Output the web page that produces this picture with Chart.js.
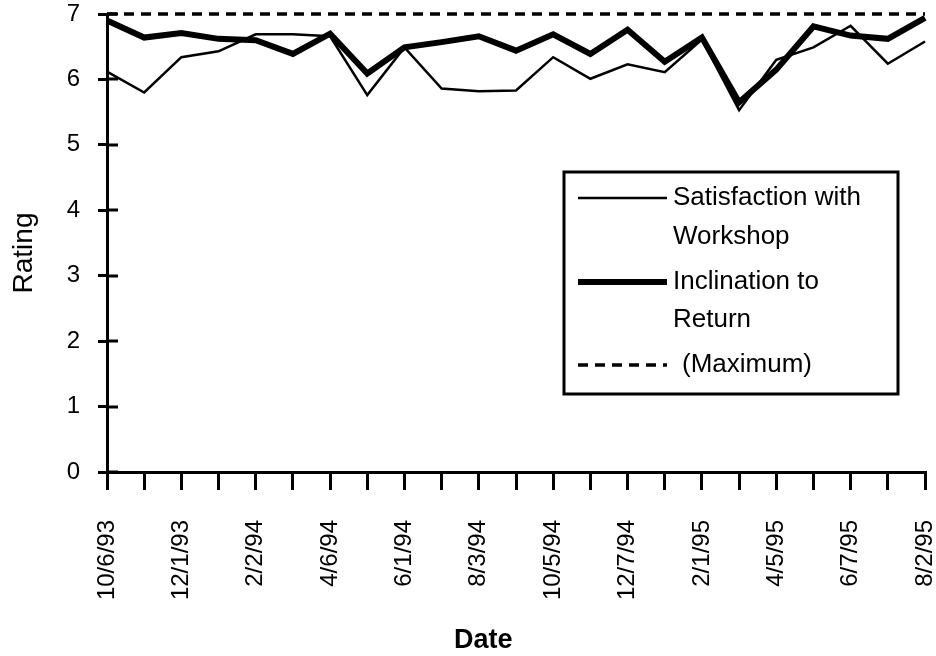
<!DOCTYPE html>
<html>
<head>
<meta charset="utf-8">
<script src="https://cdn.jsdelivr.net/npm/chart.js@4/dist/chart.umd.min.js"></script>
<style>
html,body{margin:0;padding:0;background:#ffffff;}
#wrap{width:936px;height:656px;}
</style>
</head>
<body>
<div id="wrap"><canvas id="c" width="936" height="656"></canvas></div>
<script>
// ---- data ----
const dates = ['10/6/93','','12/1/93','','2/2/94','','4/6/94','','6/1/94','','8/3/94','',
               '10/5/94','','12/7/94','','2/1/95','','4/5/95','','6/7/95','','8/2/95'];
const satisfaction = [6.12, 5.80, 6.34, 6.43, 6.69, 6.69, 6.66, 5.76, 6.49, 5.86, 5.82, 5.83,
                      6.34, 6.01, 6.23, 6.11, 6.61, 5.53, 6.30, 6.49, 6.82, 6.24, 6.58];
const inclination  = [6.90, 6.64, 6.71, 6.62, 6.60, 6.39, 6.70, 6.09, 6.49, 6.57, 6.66, 6.44,
                      6.69, 6.39, 6.76, 6.27, 6.64, 5.65, 6.15, 6.81, 6.67, 6.62, 6.94];
const maximum      = [7, 7, 7, 7, 7, 7, 7, 7, 7, 7, 7, 7, 7, 7, 7, 7, 7, 7, 7, 7, 7, 7, 7];
const seriesNames  = [['Satisfaction with', 'Workshop'], ['Inclination to', 'Return'], ['(Maximum)']];
const yAxisMin = 0, yAxisMax = 7;
const xTitle = 'Date', yTitle = 'Rating';

const FONT = "'Liberation Sans', Arial, sans-serif";

const extras = {
  id: 'extras',
  afterDraw(chart) {
    const ctx = chart.ctx;
    const ca = chart.chartArea;
    const ys = chart.scales.y;
    ctx.save();
    // inner half of y-axis tick marks
    ctx.strokeStyle = '#000';
    ctx.lineWidth = 3;
    ys.ticks.forEach(t => {
      const py = Math.round(ys.getPixelForValue(t.value));
      ctx.beginPath();
      ctx.moveTo(ca.left, py);
      ctx.lineTo(ca.left + 11, py);
      ctx.stroke();
    });
    ctx.fillStyle = '#000';
    // y axis title
    ctx.save();
    ctx.font = '28px ' + FONT;
    ctx.textAlign = 'center';
    ctx.textBaseline = 'middle';
    ctx.translate(24, 253);
    ctx.rotate(-Math.PI / 2);
    ctx.fillText(yTitle, 0, 0);
    ctx.restore();
    // x axis title
    ctx.font = 'bold 27px ' + FONT;
    ctx.textAlign = 'center';
    ctx.textBaseline = 'middle';
    ctx.fillText(xTitle, ca.left + (ca.right - ca.left) * 0.46, 641);

    // legend box
    const bx = 564, by = 172, bw = 334, bh = 222;
    ctx.lineWidth = 3;
    ctx.strokeRect(bx, by, bw, bh);
    const rows = [[198, 237], [282, 320], [365]];
    ctx.font = '26px ' + FONT;
    ctx.textAlign = 'left';
    chart.data.datasets.forEach((ds, i) => {
      const y0 = rows[i][0];
      ctx.beginPath();
      ctx.lineWidth = ds.borderWidth;
      ctx.setLineDash(ds.borderDash || []);
      ctx.moveTo(578, y0);
      ctx.lineTo(667, y0);
      ctx.stroke();
      ctx.setLineDash([]);
      const tx = ds.borderDash ? 682 : 673;
      seriesNames[i].forEach((line, j) => {
        ctx.fillText(line, tx, rows[i][j]);
      });
    });
    ctx.restore();
  }
};

new Chart(document.getElementById('c'), {
  type: 'line',
  data: {
    labels: dates,
    datasets: [
      { label: seriesNames[0].join(' '), data: satisfaction, borderColor: '#000', borderWidth: 2.5,
        pointRadius: 0, tension: 0, fill: false, clip: false },
      { label: seriesNames[1].join(' '), data: inclination, borderColor: '#000', borderWidth: 6,
        pointRadius: 0, tension: 0, fill: false, clip: false },
      { label: seriesNames[2].join(' '), data: maximum, borderColor: '#000', borderWidth: 3.5,
        borderDash: [10, 7], pointRadius: 0, tension: 0, fill: false, clip: false }
    ]
  },
  options: {
    responsive: false,
    animation: false,
    devicePixelRatio: 1,
    layout: { padding: { top: 14, right: 11, left: 0, bottom: 0 } },
    plugins: { legend: { display: false }, tooltip: { enabled: false } },
    scales: {
      x: {
        type: 'category',
        offset: false,
        grid: { display: true, drawOnChartArea: false, drawTicks: true, tickLength: 18,
                color: '#000', lineWidth: 3 },
        border: { display: true, color: '#000', width: 3 },
        ticks: { autoSkip: false, minRotation: 90, maxRotation: 90, padding: 30, color: '#000',
                 font: { family: FONT, size: 24 } },
        afterFit: s => { s.height = 184; s.paddingLeft = 0; s.paddingRight = 0; }
      },
      y: {
        min: yAxisMin, max: yAxisMax,
        grid: { display: true, drawOnChartArea: false, drawTicks: true, tickLength: 9,
                color: '#000', lineWidth: 3 },
        border: { display: true, color: '#000', width: 3 },
        ticks: { stepSize: 1, padding: 18, color: '#000', font: { family: FONT, size: 24 } },
        afterFit: s => { s.width = 107; s.paddingTop = 0; s.paddingBottom = 0; }
      }
    }
  },
  plugins: [extras]
});
</script>
</body>
</html>
